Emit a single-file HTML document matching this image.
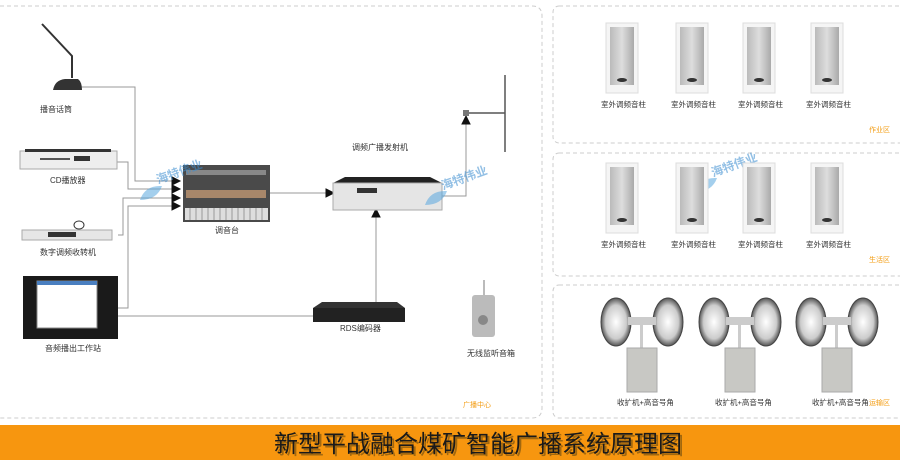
<!DOCTYPE html>
<html><head><meta charset="utf-8"><style>
body{margin:0;width:900px;height:460px;background:#fff;overflow:hidden;font-family:"Liberation Sans","Noto Sans CJK SC",sans-serif;}
svg text{font-family:"Liberation Sans","Noto Sans CJK SC",sans-serif;}
</style></head><body>
<svg width="900" height="460" viewBox="0 0 900 460" xmlns="http://www.w3.org/2000/svg">
<defs>
<linearGradient id="sp" x1="0" x2="1"><stop offset="0" stop-color="#bbb"/><stop offset=".5" stop-color="#ddd"/><stop offset="1" stop-color="#aaa"/></linearGradient>
<radialGradient id="hn" cx=".5" cy=".5" r=".5"><stop offset="0" stop-color="#fff"/><stop offset=".7" stop-color="#ccc"/><stop offset="1" stop-color="#555"/></radialGradient>
</defs>
<g fill="none" stroke="#ccc" stroke-dasharray="4,3">
<path d="M0,6 H532 Q542,6 542,16 V408 Q542,418 532,418 H0"/>
<rect x="553" y="6" width="360" height="137" rx="6"/>
<rect x="553" y="153" width="360" height="123" rx="6"/>
<rect x="553" y="285" width="360" height="133" rx="6"/>
</g>
<g stroke="#999" stroke-width="1" fill="none">
<path d="M82,87 H135 V181 H174"/>
<path d="M117,162 H128 V189 H174"/>
<path d="M118,235 H123 V198 H174"/>
<path d="M118,308 H128 V206 H174"/>
<path d="M118,316 H326"/>
<path d="M270,193 H328"/>
<path d="M376,302 V215"/>
<path d="M442,196 H466 V120"/>
</g>
<g stroke="#111" fill="#111"><path d="M172,177 l8,4 l-8,4Z"/><path d="M172,185 l8,4 l-8,4Z"/><path d="M172,194 l8,4 l-8,4Z"/><path d="M172,202 l8,4 l-8,4Z"/><path d="M325,312 l8,4 l-8,4Z"/><path d="M326,189 l8,4 l-8,4Z"/><path d="M372,217 l4,-8 l4,8Z"/><path d="M462,124 l4,-8 l4,8Z"/></g>
<path d="M466,113 H505 M505,75 V152" stroke="#555" stroke-width="1.5"/>
<rect x="463" y="110" width="6" height="6" fill="#777"/>
<!-- mic -->
<path d="M42,24 L72,56 L72,78" stroke="#333" stroke-width="2" fill="none"/>
<path d="M53,90 Q55,80 65,79 L78,79 Q82,82 82,90 Z" fill="#333"/>
<text x="40" y="112" font-size="8" fill="#333">播音话筒</text>
<!-- CD -->
<rect x="20" y="151" width="97" height="18" fill="#eee" stroke="#aaa"/><rect x="25" y="149" width="86" height="3" fill="#333"/>
<rect x="40" y="158" width="30" height="2" fill="#555"/><rect x="74" y="156" width="16" height="5" fill="#333"/>
<text x="50" y="183" font-size="8" fill="#333">CD播放器</text>
<!-- receiver -->
<rect x="22" y="230" width="90" height="10" fill="#e6e6e6" stroke="#aaa"/><rect x="48" y="232" width="28" height="5" fill="#333"/>
<ellipse cx="79" cy="225" rx="5" ry="4" fill="none" stroke="#333"/>
<text x="40" y="255" font-size="8" fill="#333">数字调频收转机</text>
<!-- workstation -->
<rect x="23" y="276" width="95" height="63" fill="#1a1a1a"/><rect x="37" y="281" width="60" height="47" fill="#fff" stroke="#888"/><rect x="37" y="281" width="60" height="4" fill="#4a7fc0"/>
<text x="45" y="351" font-size="8" fill="#333">音频播出工作站</text>
<!-- mixer -->
<rect x="183" y="165" width="87" height="57" fill="#4a4a4a"/><rect x="186" y="170" width="80" height="5" fill="#888"/><rect x="186" y="190" width="80" height="8" fill="#e8b080" opacity=".6"/><rect x="185" y="208" width="83" height="12" fill="#ddd"/>
<g stroke="#999"><path d="M190,208v12M196,208v12M202,208v12M208,208v12M214,208v12M220,208v12M226,208v12M232,208v12M238,208v12M244,208v12M250,208v12M256,208v12M262,208v12"/></g>
<text x="215" y="233" font-size="8" fill="#333">调音台</text>
<!-- transmitter -->
<path d="M345,177 H430 L442,183 H333 Z" fill="#222"/><rect x="333" y="183" width="109" height="27" fill="#e5e5e5" stroke="#aaa"/>
<rect x="357" y="188" width="20" height="5" fill="#333"/>
<text x="352" y="150" font-size="8" fill="#333">调频广播发射机</text>
<!-- RDS -->
<path d="M322,302 H397 L405,308 H313 Z" fill="#333"/><rect x="313" y="308" width="92" height="14" fill="#222"/>
<text x="340" y="331" font-size="8" fill="#333">RDS编码器</text>
<!-- wireless speaker -->
<path d="M484,280 V296" stroke="#777"/><rect x="472" y="295" width="23" height="42" rx="3" fill="#bbb"/><circle cx="483" cy="320" r="5" fill="#888"/>
<text x="467" y="356" font-size="8" fill="#333">无线监听音箱</text>
<text x="463" y="407" font-size="7" fill="#f39c12">广播中心</text>
<!-- watermarks -->
<g opacity=".55"><path d="M140,200 q5,-15 22,-14 q-5,14 -22,14z" fill="#5aa8e0"/><text x="158" y="184" font-size="12" fill="#3b8dd0" font-weight="bold" transform="rotate(-20 158 184)">海特伟业</text>
<path d="M425,205 q5,-15 22,-14 q-5,14 -22,14z" fill="#5aa8e0"/><text x="443" y="190" font-size="12" fill="#3b8dd0" font-weight="bold" transform="rotate(-20 443 190)">海特伟业</text>
<path d="M695,192 q5,-15 22,-14 q-5,14 -22,14z" fill="#5aa8e0"/><text x="713" y="177" font-size="12" fill="#3b8dd0" font-weight="bold" transform="rotate(-20 713 177)">海特伟业</text></g>
<!-- column speakers -->
<g id="col">
<rect x="606" y="23" width="32" height="70" fill="#f5f5f5" stroke="#ddd"/><rect x="610" y="27" width="24" height="58" fill="url(#sp)"/><ellipse cx="622" cy="80" rx="5" ry="2" fill="#333"/>
</g>
<use href="#col" x="70"/><use href="#col" x="137"/><use href="#col" x="205"/>
<use href="#col" y="140"/><use href="#col" x="70" y="140"/><use href="#col" x="137" y="140"/><use href="#col" x="205" y="140"/>
<g font-size="7.5" fill="#333"><text x="601" y="107">室外调频音柱</text><text x="671" y="107">室外调频音柱</text><text x="738" y="107">室外调频音柱</text><text x="806" y="107">室外调频音柱</text>
<text x="601" y="247">室外调频音柱</text><text x="671" y="247">室外调频音柱</text><text x="738" y="247">室外调频音柱</text><text x="806" y="247">室外调频音柱</text></g>
<text x="869" y="132" font-size="7" fill="#f39c12">作业区</text>
<text x="869" y="262" font-size="7" fill="#f39c12">生活区</text>
<!-- horns -->
<g id="hr">
<ellipse cx="616" cy="322" rx="15" ry="24" fill="url(#hn)" stroke="#444"/><ellipse cx="668" cy="322" rx="15" ry="24" fill="url(#hn)" stroke="#444"/>
<rect x="628" y="317" width="28" height="8" fill="#ccc"/><rect x="640" y="325" width="3" height="24" fill="#ccc"/>
<rect x="627" y="348" width="30" height="44" fill="#c8c8c4" stroke="#aaa"/>
</g>
<use href="#hr" x="98"/><use href="#hr" x="195"/>
<g font-size="7.5" fill="#333"><text x="617" y="405">收扩机+高音号角</text><text x="715" y="405">收扩机+高音号角</text><text x="812" y="405">收扩机+高音号角</text></g>
<text x="869" y="405" font-size="7" fill="#f39c12">运输区</text>
<!-- bottom bar -->
<rect x="0" y="425" width="900" height="35" fill="#f7960f"/>
<text x="478" y="452" font-size="24" text-anchor="middle" fill="#6a4a10" opacity=".6" transform="translate(2,2)">新型平战融合煤矿智能广播系统原理图</text>
<text x="478" y="452" font-size="24" text-anchor="middle" fill="#1a1a1a">新型平战融合煤矿智能广播系统原理图</text>
</svg>
</body></html>
